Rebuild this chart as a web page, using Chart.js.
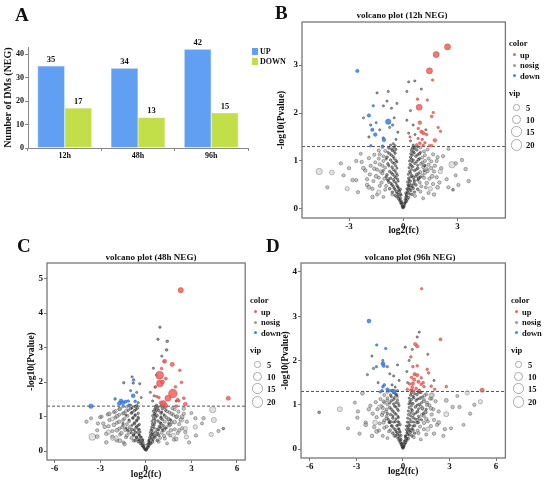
<!DOCTYPE html>
<html>
<head>
<meta charset="utf-8">
<script src="https://cdn.jsdelivr.net/npm/chart.js@4.4.0/dist/chart.umd.min.js"></script>
<style>
  html, body { margin: 0; padding: 0; background: #fff; }
  #fig { position: relative; width: 550px; height: 483px; overflow: hidden;
         font-family: "Liberation Serif", "Times New Roman", serif; font-weight: bold; color: #111; }
  .box { position: absolute; }
  .txt { position: absolute; white-space: nowrap; line-height: 1; transform: translateY(-50%); will-change: transform; }
  .mid { transform: translate(-50%, -50%); }
  .sw { position: absolute; }
  .ring { position: absolute; border: 1px solid #aaa; border-radius: 50%; background: #fff; box-sizing: border-box; }
  .dot { position: absolute; border-radius: 50%; }
</style>
</head>
<body>
<div id="fig">
  <div class="box" style="left:0;top:30px;width:252px;height:140px"><canvas id="barA"></canvas></div>
  <div class="box" style="left:275px;top:0;width:235px;height:240px"><canvas id="volB"></canvas></div>
  <div class="box" style="left:0;top:240px;width:250px;height:240px"><canvas id="volC"></canvas></div>
  <div class="box" style="left:275px;top:240px;width:235px;height:240px"><canvas id="volD"></canvas></div>
</div>
<script>
// ---- panel A: number of DMs ----
const timepoints = ['12h', '48h', '96h'];
const upCounts = [35, 34, 42];
const downCounts = [17, 13, 15];
const barTicks = [0, 10, 20, 30, 40];

// ---- volcano points: [log2(fc), -log10(Pvalue), vip] ----
const up12 = [[2.45,3.38,4.5],[1.82,3.22,4.5],[1.45,2.88,4.5],[0.88,2.12,4.5],[1.62,2.69,0.4],[0.79,2.29,0.5],
  [1.33,2.27,0.4],[1.66,2.01,0.4],[1.57,1.93,0.6],[0.92,1.8,1.2],[0.83,1.68,0.4],[1.93,1.7,0.4],[2.06,1.62,0.4],
  [1.01,1.61,1.2],[1.12,1.58,1.0],[1.29,1.55,0.6],[0.37,1.5,0.3],[0.82,1.47,0.4],[0.92,1.37,0.6],[1.2,1.38,0.4],
  [1.75,1.43,1.2],[0.74,1.34,0.4],[1.57,1.32,0.5],[1.45,1.32,0.4],[1.1,1.33,0.4],[1.05,1.45,0.5]];
const down12 = [[-2.54,2.88,1.0],[-1.66,2.15,0.4],[-1.9,1.95,1.0],[-1.8,1.75,0.4],[-0.83,1.82,3.3],[-0.59,1.75,0.4],
  [-1.71,1.65,1.0],[-1.55,1.55,1.2],[-1.1,1.48,0.4],[-1.07,1.44,1.2],[-1.79,1.32,0.4],[-1.14,1.31,0.4],[-1.5,1.8,0.3]];
const nosig12 = [
  [-0.03,0.02,0.3],[0.02,0.03,0.3],[-0.06,0.06,0.3],[0.05,0.07,0.3],[-0.1,0.1,0.3],[0.09,0.11,0.3],[-0.14,0.13,0.4],
  [0.13,0.14,0.3],[-0.2,0.17,0.3],[0.18,0.16,0.4],[-0.08,0.15,0.3],[0.1,0.19,0.3],[-0.26,0.21,0.4],[0.24,0.2,0.3],
  [-0.15,0.22,0.3],[0.3,0.24,0.4],[-0.35,0.25,0.5],[0.14,0.25,0.3],
  [-0.45,0.28,0.4],[-0.28,0.3,0.3],[-0.12,0.29,0.3],[0.17,0.3,0.4],[0.36,0.31,0.3],[0.48,0.3,0.5],[-0.6,0.35,0.5],
  [-0.38,0.36,0.4],[-0.2,0.37,0.3],[0.22,0.36,0.3],[0.42,0.38,0.4],[0.62,0.35,0.6],[-0.75,0.42,0.6],[-0.5,0.43,0.4],
  [-0.27,0.44,0.3],[-0.15,0.41,0.3],[0.2,0.42,0.3],[0.32,0.45,0.4],[0.55,0.43,0.5],[0.8,0.41,0.6],[-0.95,0.48,0.8],
  [-0.62,0.5,0.5],[-0.35,0.49,0.4],[0.26,0.5,0.3],[0.45,0.49,0.5],[0.7,0.5,0.6],[1.0,0.47,0.8],
  [-1.2,0.55,1],[-0.8,0.56,0.6],[-0.5,0.57,0.4],[-0.28,0.58,0.3],[0.24,0.56,0.3],[0.4,0.58,0.4],[0.62,0.57,0.5],
  [0.92,0.55,0.7],[1.3,0.54,1.2],[-1.05,0.63,0.8],[-0.7,0.64,0.5],[-0.42,0.65,0.4],[0.3,0.64,0.4],[0.55,0.66,0.5],
  [0.85,0.63,0.6],[1.15,0.65,0.9],[-1.5,0.68,1.5],[-0.9,0.71,0.6],[-0.58,0.72,0.5],[-0.32,0.7,0.3],[0.28,0.72,0.3],
  [0.48,0.7,0.4],[0.75,0.72,0.6],[1.05,0.7,0.8],[1.6,0.68,1.5],[-1.25,0.78,1],[-0.75,0.78,0.5],[-0.45,0.79,0.4],
  [0.35,0.78,0.4],[0.62,0.8,0.5],[0.95,0.77,0.7],[1.35,0.79,1],
  [-1.6,0.84,1.2],[-1.0,0.86,0.7],[-0.62,0.87,0.5],[-0.35,0.85,0.3],[0.32,0.86,0.3],[0.52,0.88,0.4],[0.8,0.85,0.6],
  [1.1,0.87,0.8],[1.55,0.85,1.2],[-1.3,0.93,0.9],[-0.85,0.94,0.6],[-0.5,0.95,0.4],[0.38,0.93,0.4],[0.65,0.95,0.5],
  [0.98,0.94,0.7],[1.4,0.92,1],[-1.1,1.0,0.8],[-0.7,1.02,0.5],[-0.4,1.01,0.4],[0.35,1.0,0.3],[0.55,1.02,0.4],
  [0.85,1.03,0.6],[1.2,1.0,0.8],[-0.9,1.08,0.6],[-0.55,1.09,0.4],[0.4,1.08,0.4],[0.7,1.1,0.5],[1.05,1.07,0.7],
  [-1.3,1.14,0.9],[-0.75,1.15,0.5],[-0.45,1.16,0.4],[0.42,1.15,0.4],[0.6,1.17,0.5],[0.9,1.15,0.6],[-1.0,1.21,0.7],
  [-0.6,1.22,0.5],[-0.4,1.24,0.3],[0.45,1.22,0.4],[0.75,1.23,0.5],[1.15,1.2,0.8],[-0.8,1.27,0.5],[-0.5,1.28,0.4],
  [0.5,1.27,0.4],[0.65,1.29,0.4],
  [-0.04,0.05,0.3],[0.04,0.05,0.3],[-0.09,0.12,0.3],[0.07,0.12,0.3],[-0.17,0.19,0.3],[0.15,0.21,0.3],[-0.22,0.26,0.3],
  [0.2,0.27,0.3],[-0.33,0.33,0.3],[0.28,0.34,0.3],[-0.16,0.32,0.3],[0.14,0.33,0.3],[-0.45,0.4,0.3],[0.38,0.41,0.3],
  [-0.25,0.39,0.3],[0.27,0.4,0.3],[-0.55,0.47,0.3],[0.5,0.46,0.3],[-0.3,0.46,0.3],[0.3,0.48,0.3],[-0.68,0.53,0.3],
  [0.58,0.52,0.3],[-0.4,0.54,0.3],[0.35,0.53,0.3],[-0.85,0.6,0.3],[-0.55,0.61,0.3],[-0.32,0.62,0.3],[0.32,0.6,0.3],
  [0.6,0.61,0.3],[0.8,0.6,0.3],[-0.95,0.67,0.3],[-0.48,0.68,0.3],[0.42,0.67,0.3],[0.68,0.68,0.3],[0.95,0.66,0.3],
  [-0.65,0.75,0.3],[-0.38,0.74,0.3],[0.4,0.75,0.3],[0.85,0.74,0.3],[-1.1,0.8,0.3],[-0.55,0.82,0.3],[0.45,0.82,0.3],
  [0.72,0.82,0.3],[1.15,0.8,0.3],[-0.8,0.9,0.3],[-0.42,0.9,0.3],[0.45,0.9,0.3],[0.8,0.91,0.3],[1.2,0.9,0.3],
  [-0.6,0.97,0.3],[-0.35,0.98,0.3],[0.5,0.98,0.3],[0.75,0.99,0.3],[-0.95,1.04,0.3],[-0.5,1.05,0.3],[0.45,1.04,0.3],
  [0.9,1.05,0.3],[-0.65,1.12,0.3],[0.5,1.12,0.3],[0.8,1.13,0.3],[-0.85,1.18,0.3],[-0.5,1.2,0.3],[0.55,1.19,0.3],
  [0.95,1.18,0.3],[-0.65,1.25,0.3],[0.6,1.25,0.3],[-0.45,1.32,0.3],[0.55,1.33,0.3],[-0.7,1.33,0.3],[0.8,1.3,0.3],
  [-0.55,1.36,0.3],[-0.4,1.45,0.3],[-0.3,1.6,0.3],[0.4,1.42,0.3],[0.3,1.58,0.3],[0.55,1.75,0.3],[-0.5,1.9,0.3],
  [-0.65,2.1,0.3],[0.4,2.05,0.3],[0.2,2.45,0.3],[0.3,2.65,0.3],[-0.9,2.25,0.3],[-1.1,2.15,0.3],[-0.35,2.2,0.3],
  [0.65,1.55,0.3],[-0.75,1.7,0.3],[0.2,1.85,0.3],[-1.45,2.42,0.3],[-2.2,1.9,0.3],[1.25,1.65,0.3],[-1.9,1.5,0.3],
  [-1.3,1.65,0.3],[-0.83,2.45,0.3],[0.64,2.67,0.3],[1.0,2.5,0.3],
  [-4.65,0.78,5],[-3.95,0.76,2.5],[-3.45,0.95,1],[-3.1,0.42,2],[-4.2,0.45,1],[-2.8,0.6,1.2],[-2.5,0.35,1],
  [-2.2,0.85,1.5],[-1.9,0.45,1.5],[-2.6,1.0,1],[-1.7,0.25,1.2],[-2.0,0.62,1],[-3.3,0.7,1],[-1.35,0.35,2],
  [-2.35,1.15,0.8],[2.7,0.92,5],[2.05,0.78,2],[3.45,0.83,1.2],[3.62,0.58,1.2],[2.75,0.4,0.6],[2.4,0.62,1],
  [1.9,0.45,1.5],[2.2,1.1,1],[3.05,0.5,1],[1.7,0.3,1.2],[2.9,0.7,0.8],[3.25,1.02,1],[1.5,0.42,2],[2.5,1.25,0.8],
  [1.85,1.0,1]];
// the wider grey halo around the V
const halo12 = [[-1.45,0.3,0.8],[-1.1,0.25,0.7],[1.1,0.22,0.7],[1.4,0.33,0.9],[-1.7,0.42,1],[-1.3,0.48,0.8],
  [1.25,0.45,0.8],[1.65,0.52,1],[-2.0,0.5,1.2],[2.0,0.55,1.1],[-1.65,0.58,0.9],[-1.35,0.65,0.8],[1.45,0.63,0.9],
  [1.85,0.66,1],[-1.85,0.72,1],[-1.15,0.74,0.8],[1.2,0.75,0.8],[1.7,0.78,1],[-2.1,0.8,1.1],[-1.45,0.82,0.9],
  [1.3,0.83,0.9],[2.1,0.85,1],[-1.8,0.9,1],[-1.15,0.9,0.7],[1.15,0.91,0.8],[1.75,0.9,1],[-2.3,0.98,1],
  [-1.55,0.97,0.9],[1.55,0.99,0.9],[1.05,0.97,0.7],[-1.35,1.05,0.8],[-1.9,1.06,1],[1.4,1.05,0.8],[1.9,1.08,1],
  [-1.6,1.13,0.9],[-1.1,1.1,0.7],[1.2,1.12,0.8],[1.65,1.14,0.9],[-1.35,1.22,0.8],[1.35,1.24,0.8],[-1.15,1.29,0.7],
  [0.95,1.28,0.7],[-0.85,0.62,0.9],[0.85,0.66,0.9],[-1.0,0.4,0.8],[0.95,0.36,0.8],[-0.6,0.3,0.8],[0.65,0.27,0.8],
  [-2.6,0.6,1],[2.5,0.45,1],[-3.0,0.85,1],[2.9,0.95,1.2]];

const up48 = [[2.3,4.66,3.3],[1.74,2.51,1.8],[1.04,2.39,0.6],[2.24,2.34,0.5],[0.91,2.2,8],[1.32,2.1,0.8],
  [0.93,1.96,6],[1.1,2.0,1.5],[2.35,1.99,0.6],[1.78,1.67,10],[1.46,1.53,4.5],[2.1,1.49,0.6],[2.5,1.53,0.6],
  [0.86,1.55,0.5],[1.15,1.38,4],[1.0,1.4,1.2],[2.6,1.36,1.5],[2.0,1.3,0.5],[5.43,1.53,1.8],[0.72,1.58,0.5],
  [1.3,1.33,1.5],[1.24,2.6,1.5],[0.65,1.86,0.5],[1.95,1.86,0.6],[2.17,1.45,0.5]];
const down48 = [[-3.61,1.3,2],[-2.02,1.51,0.5],[-1.63,1.45,1.5],[-1.74,1.38,1.5],[-1.5,1.4,1.5],[-1.33,1.43,0.8],
  [-1.15,1.45,0.5],[-0.83,1.6,1.5],[-0.8,2.06,0.5],[-0.7,1.44,0.5],[-1.1,1.33,0.5]];
const nosig48 = [
  [0.03,0.02,0.3],[-0.04,0.04,0.3],[0.08,0.07,0.3],[-0.1,0.08,0.3],[0.15,0.11,0.3],[-0.17,0.12,0.4],[0.22,0.15,0.3],
  [-0.25,0.16,0.3],[-0.1,0.18,0.3],[0.12,0.2,0.3],[0.32,0.21,0.4],[-0.36,0.22,0.4],[-0.18,0.25,0.3],[0.2,0.26,0.3],
  [0.45,0.26,0.5],[-0.5,0.27,0.5],
  [-0.7,0.31,0.6],[-0.4,0.32,0.4],[-0.2,0.33,0.3],[0.22,0.32,0.3],[0.48,0.33,0.4],[0.75,0.31,0.6],[-0.95,0.38,0.8],
  [-0.6,0.39,0.5],[-0.3,0.4,0.3],[0.25,0.39,0.3],[0.6,0.4,0.5],[0.95,0.38,0.7],[-1.25,0.45,1],[-0.8,0.46,0.6],
  [-0.45,0.47,0.4],[0.3,0.46,0.3],[0.5,0.48,0.4],[0.85,0.46,0.6],[1.2,0.44,0.9],
  [-1.6,0.52,1.2],[-1.1,0.53,0.8],[-0.7,0.54,0.5],[-0.38,0.55,0.3],[0.3,0.54,0.3],[0.65,0.55,0.5],[1.05,0.53,0.7],
  [1.45,0.52,1],[-1.9,0.6,1.5],[-1.35,0.61,0.9],[-0.9,0.62,0.6],[-0.5,0.63,0.4],[0.35,0.62,0.3],[0.75,0.63,0.5],
  [1.2,0.61,0.8],[1.65,0.6,1.2],[-1.55,0.69,1],[-1.05,0.7,0.7],[-0.6,0.71,0.4],[0.4,0.7,0.4],[0.9,0.71,0.6],
  [1.35,0.69,0.9],[-2.1,0.76,1.5],[-1.25,0.78,0.8],[-0.75,0.79,0.5],[-0.42,0.77,0.3],[0.45,0.78,0.4],[1.0,0.79,0.6],
  [1.6,0.77,1],
  [-1.75,0.85,1.2],[-1.1,0.86,0.7],[-0.6,0.87,0.4],[0.42,0.86,0.3],[0.8,0.87,0.5],[1.25,0.85,0.8],[1.9,0.84,1.4],
  [-2.2,0.93,1.6],[-1.4,0.94,0.9],[-0.85,0.95,0.5],[-0.48,0.94,0.3],[0.5,0.94,0.4],[1.0,0.95,0.6],[1.5,0.93,1],
  [-1.9,1.01,1.3],[-1.2,1.02,0.8],[-0.7,1.03,0.5],[0.45,1.02,0.3],[0.75,1.03,0.5],[1.25,1.01,0.7],[2.05,1.0,1.5],
  [-2.4,1.08,1.5],[-1.5,1.09,0.9],[-0.95,1.1,0.6],[-0.5,1.09,0.4],[0.55,1.08,0.4],[1.0,1.1,0.6],[1.7,1.08,1],
  [-2.0,1.15,1.2],[-1.3,1.16,0.8],[-0.75,1.17,0.5],[0.5,1.16,0.4],[0.85,1.17,0.5],[1.4,1.15,0.8],[-1.7,1.22,1],
  [-1.0,1.23,0.6],[-0.55,1.24,0.4],[0.6,1.22,0.4],[1.1,1.23,0.6],[1.9,1.21,0.9],[-1.25,1.28,0.7],[-0.7,1.29,0.4],
  [0.65,1.28,0.4],[1.3,1.27,0.7],
  [-0.05,0.05,0.3],[0.05,0.06,0.3],[-0.13,0.12,0.3],[0.11,0.13,0.3],[-0.24,0.19,0.3],[0.2,0.2,0.3],[-0.32,0.26,0.3],
  [0.3,0.25,0.3],[-0.48,0.33,0.3],[0.38,0.34,0.3],[-0.22,0.31,0.3],[0.2,0.3,0.3],[-0.62,0.4,0.3],[0.52,0.41,0.3],
  [-0.35,0.4,0.3],[0.35,0.4,0.3],[-0.8,0.47,0.3],[0.68,0.46,0.3],[-0.42,0.46,0.3],[0.4,0.48,0.3],[-0.95,0.53,0.3],
  [0.8,0.52,0.3],[-0.55,0.54,0.3],[0.45,0.53,0.3],[-1.2,0.6,0.3],[-0.75,0.61,0.3],[-0.42,0.62,0.3],[0.42,0.6,0.3],
  [0.85,0.61,0.3],[1.1,0.6,0.3],[-1.3,0.67,0.3],[-0.65,0.68,0.3],[0.55,0.67,0.3],[0.95,0.68,0.3],[1.3,0.66,0.3],
  [-0.9,0.75,0.3],[-0.5,0.74,0.3],[0.55,0.75,0.3],[1.15,0.74,0.3],[-1.5,0.8,0.3],[-0.75,0.82,0.3],[0.6,0.82,0.3],
  [0.95,0.82,0.3],[1.5,0.8,0.3],[-1.1,0.9,0.3],[-0.6,0.9,0.3],[0.6,0.9,0.3],[1.1,0.91,0.3],[1.65,0.9,0.3],
  [-0.85,0.97,0.3],[-0.5,0.98,0.3],[0.65,0.98,0.3],[1.0,0.99,0.3],[-1.3,1.04,0.3],[-0.7,1.05,0.3],[0.6,1.04,0.3],
  [1.2,1.05,0.3],[-0.9,1.12,0.3],[0.65,1.12,0.3],[1.05,1.13,0.3],[-1.15,1.18,0.3],[-0.65,1.2,0.3],[0.7,1.19,0.3],
  [1.3,1.18,0.3],[-0.9,1.25,0.3],[0.8,1.25,0.3],[-0.6,1.32,0.3],[0.7,1.33,0.3],[-1.0,1.33,0.3],[1.0,1.3,0.3],
  [-0.5,1.4,0.3],[-0.3,1.55,0.3],[0.45,1.45,0.3],[0.3,1.7,0.3],[0.6,1.85,0.3],[-0.6,1.7,0.3],[-1.45,1.98,0.4],
  [-0.83,1.97,0.4],[0.7,2.2,0.3],[0.93,3.59,0.4],[0.8,3.24,0.4],[1.41,3.18,0.5],[1.37,2.93,0.5],[1.05,2.75,0.3],
  [-0.4,1.95,0.3],[0.5,2.4,0.3],[-0.9,2.15,0.3],[1.2,2.6,0.3],[-1.0,1.75,0.3],[2.0,1.45,0.3],[0.55,1.6,0.3],
  [-3.52,0.41,6],[-3.2,0.42,1.5],[-3.15,0.8,1],[-2.9,1.0,0.8],[-2.45,0.55,2],[-2.17,0.37,2],[-1.96,0.37,2.5],
  [-2.7,0.7,1.2],[-3.6,0.95,0.8],[-2.6,0.25,1.2],[-1.7,0.3,1.5],[-1.4,0.2,1.2],[4.4,1.2,5],[4.48,0.9,3],
  [4.3,0.48,2],[4.78,0.58,1],[3.26,0.7,2],[3.26,0.95,1],[2.35,0.91,2.5],[2.5,1.23,1.2],[2.6,0.65,2],[2.67,0.41,2],
  [2.39,0.99,1.5],[2.0,0.35,1.5],[3.0,1.1,0.8],[2.85,0.25,1],[1.8,0.45,2],[2.2,0.6,1.2],[3.7,0.8,0.8],[5.1,0.65,0.6]];
const halo48 = [[-1.9,0.3,0.8],[-1.45,0.25,0.7],[1.4,0.22,0.7],[1.85,0.33,0.9],[-2.2,0.42,1],[-1.7,0.48,0.8],
  [1.6,0.45,0.8],[2.1,0.52,1],[-2.6,0.5,1.2],[2.6,0.55,1.1],[-2.2,0.58,0.9],[-1.75,0.65,0.8],[1.9,0.63,0.9],
  [2.4,0.66,1],[-2.45,0.72,1],[-1.5,0.74,0.8],[1.55,0.75,0.8],[2.2,0.78,1],[-2.8,0.8,1.1],[-1.9,0.82,0.9],
  [1.7,0.83,0.9],[2.7,0.85,1],[-2.4,0.9,1],[-1.5,0.9,0.7],[1.5,0.91,0.8],[2.3,0.9,1],[-3.0,0.98,1],[-2.0,0.97,0.9],
  [2.0,0.99,0.9],[1.35,0.97,0.7],[-1.75,1.05,0.8],[-2.5,1.06,1],[1.8,1.05,0.8],[2.5,1.08,1],[-2.1,1.13,0.9],
  [-1.45,1.1,0.7],[1.55,1.12,0.8],[2.15,1.14,0.9],[-1.75,1.22,0.8],[1.75,1.24,0.8],[-1.5,1.29,0.7],[1.25,1.28,0.7],
  [-1.1,0.62,0.9],[1.1,0.66,0.9],[-1.3,0.4,0.8],[1.25,0.36,0.8],[-0.8,0.3,0.8],[0.85,0.27,0.8],[-3.2,0.6,1],
  [3.3,0.45,1],[-3.9,0.85,1],[3.8,0.95,1.2]];

const up96 = [[1.2,3.62,0.4],[2.42,2.48,0.7],[0.79,2.37,1],[0.92,2.32,1],[0.51,2.08,0.5],[0.92,1.88,0.5],
  [0.64,1.86,0.5],[1.56,1.8,0.5],[1.65,1.72,0.5],[0.75,1.69,1],[0.92,1.67,1],[0.55,1.62,0.5],[1.18,1.61,0.5],
  [0.72,1.57,1],[1.0,1.52,1],[0.64,1.48,1],[0.43,1.47,0.5],[1.18,1.46,0.5],[1.35,1.41,0.5],[1.82,1.42,0.5],
  [2.79,1.41,0.6],[0.28,1.35,0.5],[0.5,1.33,0.5],[0.85,1.37,0.6],[1.05,1.33,0.5],[0.7,1.31,0.6],[5.1,1.33,1.8],
  [2.04,1.35,0.5],[1.3,1.5,0.6],[0.6,1.4,0.8]];
const down96 = [[-2.19,2.89,1.5],[-1.69,2.35,0.4],[-1.11,2.27,0.4],[-1.29,1.93,1.5],[-1.25,1.88,1],[-1.71,1.86,0.4],
  [-1.01,1.86,0.4],[-1.29,1.41,0.6],[-1.35,1.32,0.5],[-1.01,1.35,0.8],[-0.86,1.32,0.5],[-0.58,1.3,2.2],
  [-1.46,1.29,0.4],[-1.2,1.45,0.5]];
const nosig96 = [
  [-0.02,0.02,0.3],[0.03,0.03,0.3],[-0.07,0.06,0.3],[0.07,0.07,0.3],[-0.12,0.1,0.3],[0.12,0.11,0.3],[-0.05,0.13,0.3],
  [0.18,0.15,0.4],[-0.18,0.15,0.4],[0.08,0.18,0.3],[-0.25,0.2,0.4],[0.26,0.2,0.3],[-0.12,0.22,0.3],[0.35,0.24,0.4],
  [-0.33,0.25,0.4],[0.15,0.26,0.3],
  [-0.48,0.3,0.5],[-0.25,0.31,0.3],[0.2,0.3,0.3],[0.4,0.32,0.4],[0.58,0.3,0.5],[-0.65,0.36,0.6],[-0.38,0.37,0.4],
  [-0.18,0.38,0.3],[0.25,0.37,0.3],[0.5,0.38,0.4],[0.75,0.36,0.6],[-0.82,0.43,0.7],[-0.5,0.44,0.4],[-0.25,0.45,0.3],
  [0.22,0.44,0.3],[0.4,0.45,0.4],[0.65,0.43,0.5],[0.95,0.42,0.7],
  [-1.05,0.51,0.8],[-0.7,0.52,0.5],[-0.4,0.53,0.4],[-0.18,0.55,0.3],[0.22,0.52,0.3],[0.45,0.54,0.4],[0.75,0.53,0.5],
  [1.1,0.51,0.8],[-1.25,0.6,1],[-0.85,0.61,0.6],[-0.5,0.62,0.4],[-0.25,0.6,0.3],[0.28,0.61,0.3],[0.55,0.62,0.4],
  [0.9,0.6,0.6],[1.35,0.59,1],[-1.05,0.69,0.8],[-0.65,0.7,0.5],[-0.3,0.71,0.3],[0.3,0.7,0.3],[0.65,0.71,0.5],
  [1.05,0.69,0.7],[1.5,0.68,1.1],[-1.35,0.77,1],[-0.8,0.78,0.5],[-0.45,0.79,0.4],[0.35,0.78,0.3],[0.7,0.79,0.5],
  [1.2,0.77,0.8],
  [-1.1,0.85,0.8],[-0.65,0.86,0.5],[-0.3,0.87,0.3],[0.35,0.86,0.3],[0.6,0.87,0.4],[0.95,0.85,0.6],[1.45,0.84,1],
  [-1.3,0.93,0.9],[-0.85,0.94,0.5],[-0.45,0.95,0.4],[0.4,0.94,0.3],[0.8,0.95,0.5],[1.25,0.93,0.8],[1.8,0.92,1.2],
  [-1.0,1.01,0.7],[-0.6,1.02,0.4],[-0.3,1.03,0.3],[0.38,1.02,0.3],[0.65,1.03,0.4],[1.05,1.01,0.6],[1.55,1.0,0.9],
  [-1.25,1.08,0.8],[-0.75,1.09,0.5],[-0.35,1.1,0.3],[0.45,1.08,0.4],[0.85,1.1,0.5],[1.35,1.08,0.7],
  [-1.0,1.15,0.7],[-0.55,1.16,0.4],[0.4,1.15,0.3],[0.7,1.16,0.4],[1.1,1.15,0.6],[1.75,1.14,0.9],[-0.8,1.22,0.5],
  [-0.4,1.23,0.3],[0.5,1.22,0.4],[0.9,1.23,0.5],[1.4,1.21,0.7],[-0.6,1.28,0.4],[0.55,1.27,0.4],[1.15,1.28,0.5],
  [-0.43,1.17,2],[-1.5,0.95,2],[2.79,0.79,3],[1.89,1.22,2],
  [-0.03,0.05,0.3],[0.04,0.06,0.3],[-0.09,0.12,0.3],[0.09,0.13,0.3],[-0.16,0.19,0.3],[0.17,0.2,0.3],[-0.22,0.26,0.3],
  [0.24,0.25,0.3],[-0.35,0.33,0.3],[0.32,0.34,0.3],[-0.12,0.31,0.3],[0.15,0.3,0.3],[-0.45,0.4,0.3],[0.45,0.41,0.3],
  [-0.22,0.4,0.3],[0.3,0.4,0.3],[-0.6,0.47,0.3],[0.58,0.46,0.3],[-0.3,0.46,0.3],[0.32,0.48,0.3],[-0.75,0.53,0.3],
  [0.65,0.52,0.3],[-0.32,0.54,0.3],[0.35,0.53,0.3],[-0.9,0.6,0.3],[-0.6,0.61,0.3],[-0.32,0.62,0.3],[0.38,0.6,0.3],
  [0.7,0.61,0.3],[1.0,0.6,0.3],[-0.95,0.67,0.3],[-0.45,0.68,0.3],[0.45,0.67,0.3],[0.8,0.68,0.3],[1.2,0.66,0.3],
  [-0.65,0.75,0.3],[-0.32,0.74,0.3],[0.5,0.75,0.3],[1.0,0.74,0.3],[-1.0,0.8,0.3],[-0.55,0.82,0.3],[0.5,0.82,0.3],
  [0.85,0.82,0.3],[1.3,0.8,0.3],[-0.75,0.9,0.3],[-0.35,0.9,0.3],[0.55,0.9,0.3],[1.0,0.91,0.3],[1.5,0.9,0.3],
  [-0.55,0.97,0.3],[-0.25,0.98,0.3],[0.55,0.98,0.3],[0.9,0.99,0.3],[-0.85,1.04,0.3],[-0.45,1.05,0.3],[0.5,1.04,0.3],
  [1.2,1.05,0.3],[-0.6,1.12,0.3],[0.55,1.12,0.3],[0.95,1.13,0.3],[-0.75,1.18,0.3],[-0.4,1.2,0.3],[0.65,1.19,0.3],
  [1.25,1.18,0.3],[-0.5,1.25,0.3],[0.75,1.25,0.3],[-0.35,1.32,0.3],[0.6,1.33,0.3],[-0.7,1.33,0.3],[1.0,1.3,0.3],
  [-0.5,1.4,0.3],[-0.25,1.55,0.3],[0.3,1.5,0.3],[0.25,1.75,0.3],[-0.6,1.65,0.3],[0.4,2.0,0.3],[1.05,2.64,0.3],
  [0.92,2.53,0.3],[1.6,2.14,0.3],[-2.29,1.68,0.3],[-1.9,1.82,0.3],[-1.6,1.5,0.3],[-0.85,1.7,0.3],[-1.3,2.0,0.3],
  [0.6,2.25,0.3],[-0.35,1.9,0.3],[0.15,2.3,0.3],[2.0,1.55,0.3],[-0.7,1.45,0.3],[-2.0,2.1,0.3],
  [-4.07,0.9,3],[-5.4,0.83,0.6],[-3.54,0.47,0.8],[-2.94,0.71,1],[-2.61,1.26,1.5],[-2.4,0.55,1.5],[-2.0,0.3,1.2],
  [-3.1,1.05,0.8],[-2.2,0.9,1.2],[-1.8,0.6,2.5],[-1.7,0.4,1.5],[-2.8,0.35,1],[4.14,1.27,2],[4.99,1.07,2],
  [4.6,1.0,1],[3.64,0.95,1],[4.33,0.8,1],[2.79,1.1,1.5],[3.1,0.47,0.8],[1.82,1.22,2],[2.3,0.6,1.5],[2.0,0.35,1.2],
  [3.5,1.2,0.8],[2.6,0.3,1],[3.9,0.55,0.8],[1.6,0.45,1.8]];
const halo96 = [[-1.3,0.3,0.8],[-1.0,0.25,0.7],[1.15,0.22,0.7],[1.5,0.33,0.9],[-1.55,0.42,1],[-1.2,0.48,0.8],
  [1.35,0.45,0.8],[1.8,0.52,1],[-1.85,0.5,1.2],[2.2,0.55,1.1],[-1.5,0.58,0.9],[-1.2,0.65,0.8],[1.6,0.63,0.9],
  [2.0,0.66,1],[-1.7,0.72,1],[-1.05,0.74,0.8],[1.35,0.75,0.8],[1.85,0.78,1],[-1.95,0.8,1.1],[-1.3,0.82,0.9],
  [1.45,0.83,0.9],[2.3,0.85,1],[-1.65,0.9,1],[-1.05,0.9,0.7],[1.25,0.91,0.8],[1.95,0.9,1],[-2.1,0.98,1],
  [-1.4,0.97,0.9],[1.7,0.99,0.9],[1.15,0.97,0.7],[-1.2,1.05,0.8],[-1.75,1.06,1],[1.55,1.05,0.8],[2.1,1.08,1],
  [-1.45,1.13,0.9],[-1.0,1.1,0.7],[1.35,1.12,0.8],[1.85,1.14,0.9],[-1.2,1.22,0.8],[1.5,1.24,0.8],[-1.0,1.29,0.7],
  [1.05,1.28,0.7],[-0.8,0.62,0.9],[0.95,0.66,0.9],[-0.9,0.4,0.8],[1.0,0.36,0.8],[-0.55,0.3,0.8],[0.7,0.27,0.8],
  [-2.4,0.6,1],[2.7,0.45,1],[-2.9,0.85,1],[3.2,0.95,1.2]];

const xTicks12 = [-3, 0, 3];
const yTicks12 = [0, 1, 2, 3];
const xTicks48 = [-6, -3, 0, 3, 6];
const yTicks48 = [0, 1, 2, 3, 4, 5];
const xTicks96 = [-6, -3, 0, 3, 6];
const yTicks96 = [0, 1, 2, 3, 4];
const colorLegend = ['up', 'nosig', 'down'];
const vipLegend = [5, 10, 15, 20];
const pCutoff = 1.301; // -log10(0.05)

const SERIF = '"Liberation Serif", "Times New Roman", serif';
const colors = { up: '#F0615A', nosig: '#9a9a9a', down: '#4386EA' };
const vipRadius = v => 0.5 + 1.2 * Math.sqrt(v);
const fig = document.getElementById('fig');

function label(text, x, y, size, centred) {
  const el = document.createElement('div');
  el.className = 'txt' + (centred ? ' mid' : '');
  el.style.left = x + 'px';
  el.style.top = y + 'px';
  el.style.fontSize = size + 'px';
  el.textContent = text;
  fig.appendChild(el);
}

// ---- panel A ----
const barValueLabels = {
  id: 'barValueLabels',
  afterDatasetsDraw(chart) {
    const ctx = chart.ctx;
    ctx.save();
    ctx.font = 'bold 8.5px ' + SERIF;
    ctx.fillStyle = '#111';
    ctx.textAlign = 'center';
    ctx.textBaseline = 'bottom';
    chart.data.datasets.forEach((ds, i) => {
      chart.getDatasetMeta(i).data.forEach((bar, j) => {
        ctx.fillText(ds.data[j], bar.x, bar.y - 2);
      });
    });
    ctx.restore();
  }
};

new Chart(document.getElementById('barA'), {
  type: 'bar',
  data: {
    labels: timepoints,
    datasets: [
      { label: 'UP', data: upCounts, backgroundColor: '#619FF3', borderColor: '#8ab8f6', borderWidth: 0.6,
        categoryPercentage: 0.74, barPercentage: 1 },
      { label: 'DOWN', data: downCounts, backgroundColor: '#C2DE48', borderColor: '#d3e87a', borderWidth: 0.6,
        categoryPercentage: 0.74, barPercentage: 1 }
    ]
  },
  options: {
    responsive: true, maintainAspectRatio: false, animation: false, events: [],
    layout: { padding: { top: 17, right: 4, left: 0, bottom: 0 } },
    plugins: { legend: { display: false }, tooltip: { enabled: false } },
    scales: {
      x: {
        grid: { drawOnChartArea: false, tickLength: 3, color: '#888' },
        border: { color: '#888' },
        ticks: { font: { family: SERIF, size: 8, weight: 'bold' }, color: '#111', padding: 0 },
        afterFit: s => { s.height = 22; }
      },
      y: {
        min: 0, max: 43,
        afterBuildTicks: s => { s.ticks = barTicks.map(v => ({ value: v })); },
        grid: { drawOnChartArea: false, tickLength: 3, color: '#888' },
        border: { color: '#888' },
        ticks: { font: { family: SERIF, size: 8, weight: 'bold' }, color: '#111', padding: 1 },
        title: { display: true, text: 'Number of DMs (NEG)', color: '#111',
                 font: { family: SERIF, size: 10, weight: 'bold' }, padding: { top: 2, bottom: 0 } },
        afterFit: s => { s.width = 28; }
      }
    }
  },
  plugins: [barValueLabels]
});

[['UP', '#619FF3', 51.7], ['DOWN', '#C2DE48', 61.7]].forEach(([t, c, y]) => {
  const sw = document.createElement('div');
  sw.className = 'sw';
  sw.style.cssText = `left:252px;top:${y - 3.3}px;width:6px;height:6.6px;background:${c}`;
  fig.appendChild(sw);
  label(t, 259.5, y, 8);
});

// ---- volcano panels ----
const volcanoFrame = {
  id: 'volcanoFrame',
  beforeDatasetsDraw(chart) {
    const { ctx, chartArea: a, scales: { y } } = chart;
    const yc = y.getPixelForValue(pCutoff);
    ctx.save();
    ctx.strokeStyle = '#555';
    ctx.lineWidth = 1;
    ctx.setLineDash([3, 2]);
    ctx.beginPath();
    ctx.moveTo(a.left, yc);
    ctx.lineTo(a.right, yc);
    ctx.stroke();
    ctx.restore();
  },
  afterDatasetsDraw(chart) {
    const { ctx, chartArea: a } = chart;
    ctx.save();
    ctx.strokeStyle = '#777';
    ctx.lineWidth = 1.3;
    ctx.strokeRect(a.left, a.top, a.right - a.left, a.bottom - a.top);
    ctx.restore();
  }
};

// small nosig dots read as dark ink, mid ones as grey, the biggest as pale discs
function nosigFill(c) {
  const v = c.raw ? c.raw.vip : 0;
  if (v <= 0.6) return 'rgba(70,70,70,0.55)';
  if (v <= 1.5) return 'rgba(140,140,140,0.5)';
  return 'rgba(195,195,195,0.5)';
}
function nosigEdge(c) {
  const v = c.raw ? c.raw.vip : 0;
  if (v <= 0.6) return 'rgba(20,20,20,0.6)';
  if (v <= 1.5) return 'rgba(70,70,70,0.65)';
  return 'rgba(120,120,120,0.75)';
}

function volcano(id, up, down, nosig, c) {
  const toPts = arr => arr.map(d => ({ x: d[0], y: d[1], r: vipRadius(d[2]), vip: d[2] }));
  const tickFont = { family: SERIF, size: 9, weight: 'bold' };
  const titleFont = { family: SERIF, size: 9.5, weight: 'bold' };
  new Chart(document.getElementById(id), {
    type: 'bubble',
    data: {
      datasets: [
        { label: 'up', data: toPts(up), backgroundColor: 'rgba(240,97,90,0.85)',
          borderColor: 'rgba(200,65,60,0.9)', borderWidth: 0.5 },
        { label: 'down', data: toPts(down), backgroundColor: 'rgba(67,134,234,0.9)',
          borderColor: 'rgba(40,95,200,0.9)', borderWidth: 0.5 },
        { label: 'nosig', data: toPts(nosig), backgroundColor: nosigFill,
          borderColor: nosigEdge, borderWidth: 0.6 }
      ]
    },
    options: {
      responsive: true, maintainAspectRatio: false, animation: false, events: [],
      layout: { padding: { top: c.padTop, right: c.padRight, left: 0, bottom: 0 } },
      plugins: { legend: { display: false }, tooltip: { enabled: false } },
      scales: {
        x: {
          type: 'linear', min: c.x[0], max: c.x[1],
          afterBuildTicks: s => { s.ticks = c.xTicks.map(v => ({ value: v })); },
          grid: { drawOnChartArea: false, tickLength: 3, color: '#777' },
          border: { display: false },
          ticks: { font: tickFont, color: '#111', padding: 0, maxRotation: 0 },
          title: { display: true, text: 'log2(fc)', color: '#111', font: titleFont,
                   padding: { top: 0, bottom: c.xTitlePad } },
          afterFit: s => { s.height = c.xH; }
        },
        y: {
          type: 'linear', min: c.y[0], max: c.y[1],
          afterBuildTicks: s => { s.ticks = c.yTicks.map(v => ({ value: v })); },
          grid: { drawOnChartArea: false, tickLength: 3, color: '#777' },
          border: { display: false },
          ticks: { font: tickFont, color: '#111', padding: 1 },
          title: { display: true, text: '-log10(Pvalue)', color: '#111', font: titleFont,
                   padding: { top: c.yTitlePad, bottom: 0 } },
          afterFit: s => { s.width = c.yW; }
        }
      }
    },
    plugins: [volcanoFrame]
  });
}

function volcanoLegend(x0, y0) {
  label('color', x0, y0, 8.5);
  colorLegend.forEach((name, i) => {
    const yy = y0 + 11.5 + i * 10.5;
    const d = document.createElement('div');
    d.className = 'dot';
    d.style.cssText = `left:${x0 + 3.5}px;top:${yy - 1.5}px;width:3px;height:3px;background:${colors[name]}`;
    fig.appendChild(d);
    label(name, x0 + 11, yy, 8.5);
  });
  label('vip', x0, y0 + 50, 8.5);
  const rows = [64.5, 76.5, 88.5, 102];
  vipLegend.forEach((v, i) => {
    const r = vipRadius(v), yy = y0 + rows[i];
    const ring = document.createElement('div');
    ring.className = 'ring';
    ring.style.cssText = `left:${x0 + 7.5 - r}px;top:${yy - r}px;width:${2 * r}px;height:${2 * r}px`;
    fig.appendChild(ring);
    label(String(v), x0 + 17, yy, 8.5);
  });
}

volcano('volB', up12, down12, halo12.concat(nosig12), {
  x: [-5.6, 5.65], y: [-0.19, 3.9], xTicks: xTicks12, yTicks: yTicks12,
  padTop: 22, padRight: 4, yW: 27, xH: 22, yTitlePad: 1, xTitlePad: 4
});
volcano('volC', up48, down48, halo48.concat(nosig48), {
  x: [-6.5, 6.54], y: [-0.26, 5.45], xTicks: xTicks48, yTicks: yTicks48,
  padTop: 23, padRight: 3, yW: 47, xH: 20, yTitlePad: 26, xTitlePad: 0
});
volcano('volD', up96, down96, halo96.concat(nosig96), {
  x: [-6.57, 6.6], y: [-0.2, 4.2], xTicks: xTicks96, yTicks: yTicks96,
  padTop: 23, padRight: 4, yW: 26, xH: 22, yTitlePad: 5, xTitlePad: 3
});

label('volcano plot (12h NEG)', 402, 14.5, 9, true);
label('volcano plot (48h NEG)', 151, 257, 9, true);
label('volcano plot (96h NEG)', 410, 257, 9, true);
volcanoLegend(509, 43);
volcanoLegend(250, 300);
volcanoLegend(511, 300);

label('A', 15, 14, 19);
label('B', 275, 11.5, 19);
label('C', 16.5, 245, 19);
label('D', 266, 245, 19);
</script>
</body>
</html>
